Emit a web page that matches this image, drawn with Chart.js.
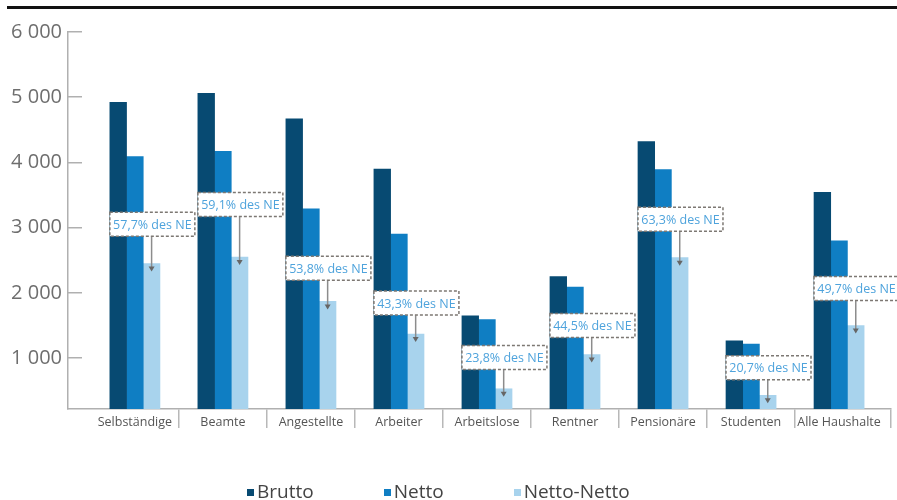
<!DOCTYPE html>
<html>
<head>
<meta charset="utf-8">
<script src="https://cdn.jsdelivr.net/npm/chart.js@4.4.1/dist/chart.umd.min.js"></script>
<style>
  html, body { margin: 0; padding: 0; background: #fff; }
  #wrap { position: relative; width: 897px; height: 500px; }
  #topline { position: absolute; left: 7px; right: 0; top: 6px; height: 3px; background: #111; }
  #legend { position: absolute; left: 247px; top: 478px; display: flex; gap: 70px;
            font-family: "Open Sans", sans-serif; font-size: 19px; color: #444; }
  #legend span.item { display: flex; align-items: center; white-space: nowrap; }
  #legend span.box { display: inline-block; width: 7px; height: 7px; margin-right: 3px; margin-top: 2px; }
</style>
</head>
<body>
<div id="wrap">
  <canvas id="myChart" width="897" height="500"></canvas>
  <div id="topline"></div>
  <div id="legend"></div>
</div>
<script>
var categories = ["Selbständige", "Beamte", "Angestellte", "Arbeiter", "Arbeitslose", "Rentner", "Pensionäre", "Studenten", "Alle Haushalte"];
var brutto     = [4920, 5060, 4670, 3900, 1650, 2250, 4320, 1265, 3540];
var netto      = [4090, 4170, 3290, 2900, 1590, 2090, 3890, 1215, 2800];
var nettoNetto = [2450, 2550, 1870, 1370,  530, 1055, 2540,  430, 1500];
// share of Netto-Netto in the net income, as printed in the callouts
var anteil     = ["57,7", "59,1", "53,8", "43,3", "23,8", "44,5", "63,3", "20,7", "49,7"];
// y value where each callout box sits (its lower edge)
var calloutAt  = [2870, 3170, 2195, 1660, 825, 1315, 2945, 670, 1885];
var yTicks     = [1000, 2000, 3000, 4000, 5000, 6000];

var seriesNames  = ["Brutto", "Netto", "Netto-Netto"];
var seriesColors = ["#074a72", "#0f7ec3", "#a8d3ed"];

function points(vals) {
	return vals.map(function (v, i) { return { x: i, y: v }; });
}

function fmt(v) {
	if (v < 1000) return String(v);
	return Math.floor(v / 1000) + " " + String(v % 1000).padStart(3, "0");
}

// dashed callout boxes with an arrow down to the Netto-Netto bar
var callouts = {
	id: "callouts",
	afterDatasetsDraw: function (chart) {
		var c = chart.ctx;
		var y = chart.scales.y;
		var first = chart.getDatasetMeta(0).data;
		var last = chart.getDatasetMeta(2).data;
		c.save();
		for (var i = 0; i < categories.length; i++) {
			var left = first[i].x - first[i].width / 2;
			var bottom = y.getPixelForValue(calloutAt[i]);
			var w = 85, h = 24;
			var ax = last[i].x;
			var tip = last[i].y + 7;

			c.strokeStyle = "#8c8c8c";
			c.lineWidth = 1.5;
			c.setLineDash([]);
			c.beginPath();
			c.moveTo(ax, bottom);
			c.lineTo(ax, tip - 3);
			c.stroke();
			c.fillStyle = "#666";
			c.beginPath();
			c.moveTo(ax - 3, tip - 4);
			c.lineTo(ax + 3, tip - 4);
			c.lineTo(ax, tip + 1);
			c.closePath();
			c.fill();

			c.fillStyle = "#fff";
			c.fillRect(left, bottom - h, w, h);
			c.setLineDash([3, 2]);
			c.strokeStyle = "#7d7873";
			c.strokeRect(left, bottom - h, w, h);

			c.fillStyle = "#4ea3dc";
			c.font = "12.5px 'Open Sans'";
			c.textAlign = "center";
			c.textBaseline = "middle";
			c.fillText(anteil[i] + "% des NE", left + w / 2, bottom - h / 2 + 1);
		}
		c.restore();
	}
};

var ctx = document.getElementById("myChart").getContext("2d");

var data = {
	datasets: seriesNames.map(function (name, k) {
		return {
			label: name,
			data: points([brutto, netto, nettoNetto][k]),
			backgroundColor: seriesColors[k],
			borderWidth: 0
		};
	})
};

var chart = new Chart(ctx, {
	type: "bar",
	data: data,
	options: {
		responsive: false,
		animation: false,
		barThickness: 16.7,
		layout: { padding: { top: 23, right: 6, left: 0, bottom: 0 } },
		plugins: {
			legend: { display: false },
			tooltip: { enabled: false }
		},
		scales: {
			x: {
				type: "linear",
				offset: false,
				min: -0.76,
				max: 8.59,
				afterBuildTicks: function (s) {
					var t = [];
					for (var i = 0; i < categories.length; i++) {
						t.push({ value: i });
						t.push({ value: i < categories.length - 1 ? i + 0.5 : s.max });
					}
					s.ticks = t;
				},
				afterFit: function (s) { s.height = 91; },
				ticks: {
					autoSkip: false,
					maxRotation: 0,
					padding: -13,
					color: "#555",
					font: { family: "'Open Sans'", size: 12.5 },
					callback: function (v) { return Number.isInteger(v) ? categories[v] : ""; }
				},
				grid: {
					offset: false,
					drawOnChartArea: false,
					tickLength: 19,
					lineWidth: 1.5,
					color: function (c) {
						return c.tick && Number.isInteger(c.tick.value) ? "rgba(0,0,0,0)" : "#b8b8b8";
					}
				},
				border: { color: "#b0b0b0", width: 1.5 }
			},
			y: {
				min: 220,
				max: 6000,
				afterBuildTicks: function (s) {
					s.ticks = yTicks.map(function (v) { return { value: v }; });
				},
				afterFit: function (s) { s.width = 68; },
				ticks: {
					padding: 20,
					color: "#6e6e6e",
					font: { family: "'Open Sans'", size: 20 },
					callback: function (v) { return fmt(v); }
				},
				grid: {
					drawOnChartArea: false,
					tickLength: -14,
					lineWidth: 1.5,
					color: "#b0b0b0"
				},
				border: { color: "#b0b0b0", width: 1.5 }
			}
		}
	},
	plugins: [callouts]
});

// legend built from the datasets
var lg = document.getElementById("legend");
chart.data.datasets.forEach(function (ds) {
	var item = document.createElement("span");
	item.className = "item";
	var box = document.createElement("span");
	box.className = "box";
	box.style.background = ds.backgroundColor;
	item.appendChild(box);
	item.appendChild(document.createTextNode(ds.label));
	lg.appendChild(item);
});
</script>
</body>
</html>
